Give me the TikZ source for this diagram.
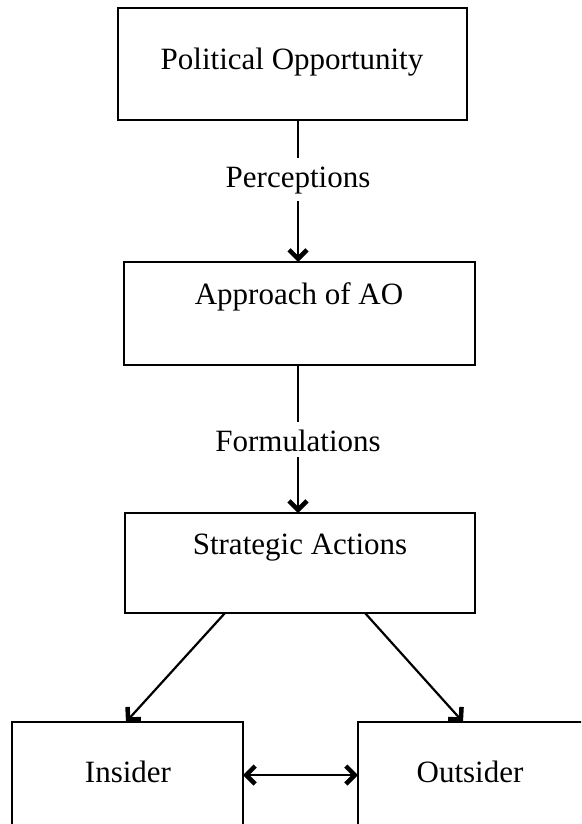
\documentclass[tikz,border=0pt]{standalone}
\usepackage{fontspec}
\setmainfont{Liberation Serif}
\usetikzlibrary{arrows.meta}
\begin{document}
\begin{tikzpicture}[x=1pt,y=-1pt,
  box/.style={draw=black,line width=2.6pt,inner sep=0pt,outer sep=0pt,fill=none},
  lbl/.style={inner sep=0pt,font=\fontsize{31}{36}\selectfont},
  conn/.style={line width=2.2pt},
  tip/.style={-{Straight Barb[length=9pt,width=18pt,line width=4.5pt]}},
  tips/.style={{Straight Barb[length=9pt,width=18pt,line width=4.5pt]}-{Straight Barb[length=9pt,width=18pt,line width=4.5pt]}}]
\useasboundingbox (0,0) rectangle (581,824);
\clip (0,0) rectangle (581,824);
% boxes
\node[box,minimum width=349pt,minimum height=112pt] (b1) at (292.5,64) {};
\node[box,minimum width=351pt,minimum height=103pt] (b2) at (299.5,313.5) {};
\node[box,minimum width=350pt,minimum height=100pt] (b3) at (300,563) {};
\node[box,minimum width=231pt,minimum height=110pt,anchor=north west] (b4) at (12,722) {};
\node[box,minimum width=240pt,minimum height=110pt,anchor=north west] (b5) at (358,722) {};
% texts
\node[lbl] (t1) at (292,62) {Political Opportunity};
\node[lbl] (t2) at (299,297) {Approach of AO};
\node[lbl] (t3) at (300,548) {Strategic Actions};
\node[lbl] (t4) at (128,772) {Insider};
\node[lbl] (t5) at (470,772) {Outsider};
\node[lbl] (p) at (298,181) {Perceptions};
\node[lbl] (f) at (298,441) {Formulations};
% connectors
\coordinate (c1a) at (298,158);
\coordinate (c1b) at (298,201);
\coordinate (c2a) at (298,422);
\coordinate (c2b) at (298,457);
\draw[conn] (b1.south -| c1a) -- (c1a);
\draw[conn,tip] (c1b) -- (b2.north -| c1b);
\draw[conn] (b2.south -| c2a) -- (c2a);
\draw[conn,tip] (c2b) -- (b3.north -| c2b);
\coordinate (d1) at (225,613);
\coordinate (e1) at (126,722);
\coordinate (d2) at (365,613);
\coordinate (e2) at (463,722);
\draw[conn,tip] (b3.south -| d1) -- (b4.north -| e1);
\draw[conn,tip] (b3.south -| d2) -- (b5.north -| e2);
\coordinate (m) at (0,775);
\draw[conn,tips] (b4.east |- m) -- (b5.west |- m);
\end{tikzpicture}
\end{document}
